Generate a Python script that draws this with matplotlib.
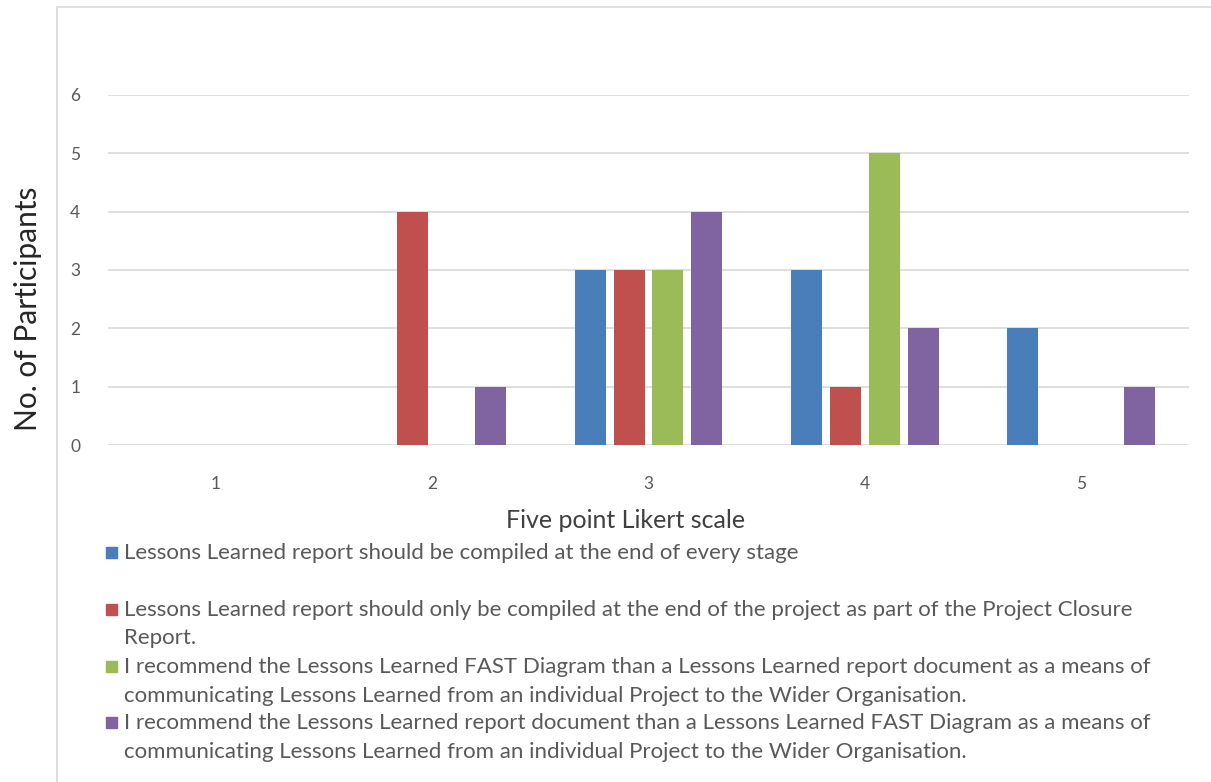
import numpy as np
import matplotlib
matplotlib.use('Agg')
import matplotlib.pyplot as plt
from matplotlib.patches import Rectangle

plt.rcParams['font.family'] = ['Lato', 'DejaVu Sans']

# data
likert = [1, 2, 3, 4, 5]
every_stage = [0, 0, 3, 3, 2]
end_of_project = [0, 4, 3, 1, 0]
fast_diagram = [0, 0, 3, 5, 0]
report_document = [0, 1, 4, 2, 1]
yticks = [0, 1, 2, 3, 4, 5, 6]

series = [every_stage, end_of_project, fast_diagram, report_document]
labels = [
    ['Lessons Learned report should be compiled at the end of every stage'],
    ['Lessons Learned report should only be compiled at the end of the project as part of the Project Closure',
     'Report.'],
    ['I recommend the Lessons Learned FAST Diagram than a Lessons Learned report document as a means of',
     'communicating Lessons Learned from an individual Project to the Wider Organisation.'],
    ['I recommend the Lessons Learned report document than a Lessons Learned FAST Diagram as a means of',
     'communicating Lessons Learned from an individual Project to the Wider Organisation.'],
]
colors = ['#4a7ebb', '#c0504d', '#9bbb59', '#8064a2']
txt = '#595959'

W, H = 1211, 782
fig = plt.figure(figsize=(W / 100, H / 100), dpi=100)

# chart frame
fig.patches.append(Rectangle((57 / W, -0.01), 1.0, 1 - 7 / H + 0.01, transform=fig.transFigure,
                             fill=False, edgecolor='#d9d9d9', linewidth=1.2))

ax = fig.add_axes([108 / W, 1 - 445 / H, (1189 - 108) / W, (445 - 95) / H])
x = np.array(likert)
offsets = [-0.27, -0.09, 0.09, 0.27]
for vals, off, c in zip(series, offsets, colors):
    ax.bar(x + off, vals, width=0.143, color=c, zorder=3)

ax.set_xlim(0.5, 5.5)
ax.set_ylim(0, 6)
ax.set_yticks(yticks)
ax.set_xticks(likert)
ax.grid(axis='y', color='#d9d9d9', linewidth=1.2, zorder=0)
for s in ax.spines.values():
    s.set_visible(False)
ax.tick_params(length=0, labelsize=12.5, labelcolor=txt)
ax.tick_params(axis='y', pad=20)
ax.tick_params(axis='x', pad=22)

fig.text(626 / W, 1 - 520 / H, 'Five point Likert scale', fontsize=18, color='#404040',
         ha='center', va='center')
fig.text(28 / W, 1 - 309 / H, 'No. of Participants', fontsize=21.5, color='#262626',
         ha='center', va='center', rotation=90)

# legend below the plot
rows = [553, 610, 667, 723]
for lines, c, yp in zip(labels, colors, rows):
    fig.patches.append(Rectangle((106 / W, 1 - (yp + 5) / H), 11 / W, 11 / H,
                                 transform=fig.transFigure, color=c))
    for i, line in enumerate(lines):
        fig.text(124 / W, 1 - (yp + 28.5 * i) / H, line, fontsize=16, color=txt,
                 va='center', ha='left')

fig.savefig('out.png', dpi=100)
